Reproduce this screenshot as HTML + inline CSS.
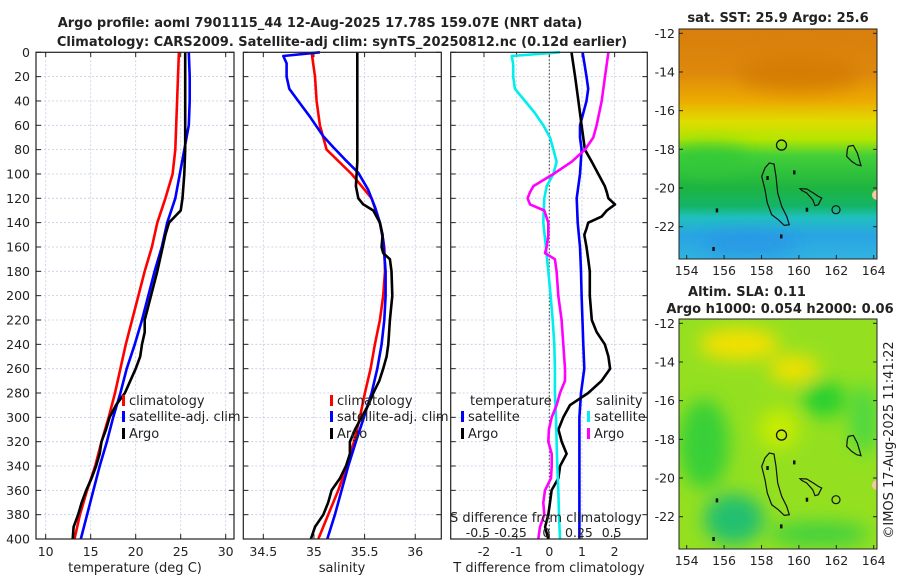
<!DOCTYPE html>
<html><head><meta charset="utf-8">
<style>
html,body{margin:0;padding:0;background:#fff;}
svg text{font-family:"DejaVu Sans","Liberation Sans",sans-serif;fill:#222;}
</style></head>
<body>
<svg id="chart" width="900" height="580" viewBox="0 0 900 580" xmlns="http://www.w3.org/2000/svg">
<defs>
<linearGradient id="sstGrad" x1="0" y1="0" x2="0" y2="1">
<stop offset="0" stop-color="#d87e0c"/><stop offset="0.19" stop-color="#de880c"/>
<stop offset="0.31" stop-color="#ecaa00"/><stop offset="0.40" stop-color="#e0dc00"/>
<stop offset="0.48" stop-color="#b4e600"/><stop offset="0.55" stop-color="#44d038"/>
<stop offset="0.69" stop-color="#1eb440"/><stop offset="0.77" stop-color="#14b468"/>
<stop offset="0.82" stop-color="#20c0c0"/><stop offset="0.90" stop-color="#2aa4e4"/>
<stop offset="1" stop-color="#30b4e0"/></linearGradient>
<filter id="blur" x="-50%" y="-50%" width="200%" height="200%"><feGaussianBlur stdDeviation="9"/></filter>
<clipPath id="clipTop"><rect x="679" y="29" width="198" height="230"/></clipPath>
<clipPath id="clipBot"><rect x="679" y="319" width="198" height="230"/></clipPath>
</defs>
<text x="320" y="27" font-size="13" font-weight="bold" text-anchor="middle">Argo profile: aoml 7901115_44 12-Aug-2025 17.78S 159.07E (NRT data)</text>
<text x="342" y="46" font-size="13" font-weight="bold" text-anchor="middle">Climatology: CARS2009. Satellite-adj clim: synTS_20250812.nc (0.12d earlier)</text>
<g id="g"></g>
</svg>
<script>
// ---------- data ----------
const climDepth=[0,20,40,60,80,100,120,140,160,180,200,220,240,260,280,300,320,340,360,380,400];
const climT=[24.8,24.7,24.6,24.5,24.4,24.1,23.3,22.4,21.8,21.0,20.3,19.6,18.9,18.3,17.7,17.0,16.2,15.5,14.6,13.8,13.2];
const satT=[25.9,26.0,26.0,25.9,25.4,24.9,24.4,23.5,22.9,22.1,21.4,20.7,19.9,19.0,18.3,17.5,16.8,16.0,15.3,14.6,13.9];
const argoDepth=[0,20,40,60,80,100,120,130,140,150,160,180,200,220,230,240,250,260,270,280,290,300,310,320,330,340,350,360,370,380,390,400];
const argoT=[25.5,25.5,25.5,25.5,25.5,25.4,25.2,25.0,23.7,23.3,23.0,22.4,21.7,21.0,21.0,20.7,20.5,20.0,19.4,18.8,17.8,17.1,16.7,16.2,16.0,15.6,15.1,14.5,14.0,13.6,13.1,13.0];
const climS=[34.977,35.010,35.026,35.059,35.125,35.372,35.569,35.651,35.694,35.701,35.684,35.651,35.602,35.559,35.503,35.454,35.395,35.322,35.240,35.141,35.043];
const satSDepth=[0,3,9,20,30,42,53,69,78,88,99,113,127,140,154,180,200,220,240,260,280,300,320,340,360,380,400];
const satS=[35.059,34.697,34.730,34.730,34.757,34.862,34.961,35.092,35.191,35.306,35.438,35.536,35.602,35.651,35.684,35.707,35.707,35.694,35.668,35.625,35.569,35.493,35.414,35.339,35.273,35.207,35.132];
const argoSDepth=[0,90,100,110,120,125,130,140,150,160,165,170,180,200,220,240,250,260,270,280,290,300,310,320,330,340,350,360,370,380,390,400];
const argoS=[35.428,35.428,35.421,35.414,35.438,35.487,35.586,35.651,35.678,35.668,35.684,35.750,35.766,35.773,35.750,35.734,35.717,35.684,35.645,35.586,35.536,35.470,35.405,35.355,35.355,35.316,35.257,35.174,35.141,35.092,35.010,34.970];
const satTdDepth=[0,20,30,40,50,60,70,80,100,120,140,160,180,200,240,260,280,300,400];
const satTdiff=[1.02,1.14,1.19,1.14,1.04,0.94,0.94,0.99,0.94,0.84,0.87,0.94,0.97,0.99,1.04,1.07,0.97,0.92,0.92];
const argoTdDepth=[0,20,40,60,80,90,100,110,115,120,125,130,135,140,145,150,160,170,180,200,220,230,240,250,260,270,280,290,300,310,320,330,340,350,360,370,380,390,400];
const argoTdiff=[0.68,0.79,0.89,0.99,1.09,1.30,1.50,1.70,1.76,1.81,2.01,1.76,1.60,1.19,1.14,1.07,1.14,1.19,1.24,1.24,1.30,1.45,1.70,1.81,1.86,1.60,1.19,0.63,0.43,0.28,0.38,0.53,0.33,0.28,0.07,0.02,-0.03,-0.13,-0.03];
const satSdDepth=[0,3,10,20,30,40,50,60,70,80,90,100,110,120,140,160,180,200,220,240,260,280,300,320,340,360,380,400];
const satSdiff=[0.082,-0.288,-0.276,-0.276,-0.263,-0.186,-0.110,-0.046,0.005,0.031,0.056,0.031,-0.020,-0.038,-0.046,-0.026,-0.008,0.010,0.026,0.038,0.043,0.043,0.051,0.056,0.061,0.069,0.074,0.082];
const argoSdDepth=[0,10,20,40,60,70,80,90,100,110,115,120,125,130,140,150,160,165,170,180,200,220,240,260,270,280,290,300,310,320,330,340,350,360,370,380,390,400];
const argoSdiff=[0.452,0.439,0.426,0.401,0.362,0.337,0.273,0.171,0.031,-0.122,-0.148,-0.166,-0.148,-0.038,-0.008,-0.008,-0.020,-0.033,0.043,0.056,0.069,0.094,0.107,0.120,0.120,0.082,0.056,0.018,-0.003,-0.008,0.018,0.018,0.013,-0.033,-0.046,-0.038,-0.071,-0.084];
const depthTicks=[0,20,40,60,80,100,120,140,160,180,200,220,240,260,280,300,320,340,360,380,400];
const tTicks=[10,15,20,25,30];
const sTicks=[34.5,35,35.5,36];
const dTicks=[-2,-1,0,1,2];
const sdTickLabels=["-0.5","-0.25","0","0.25","0.5"];
const sdTicks=[-0.5,-0.25,0,0.25,0.5];
const latTicks=[-12,-14,-16,-18,-20,-22];
const lonTicks=[154,156,158,160,162,164];
const argoLon=159.07, argoLat=-17.78;

// ---------- scales ----------
const yD=d=>52.3+d*1.2168;
const xT=t=>45.7+(t-10)*9;
const xS=s=>263.3+(s-34.5)*101.3;
const xDT=t=>549.3+t*32.67;
const xDS=s=>549.3+s*4*32.67;
const NS="http://www.w3.org/2000/svg";
const G=document.getElementById('g');
function el(tag,attrs,parent){const e=document.createElementNS(NS,tag);for(const k in attrs)e.setAttribute(k,attrs[k]);(parent||G).appendChild(e);return e;}
function txt(x,y,s,size,anchor,parent){const t=el('text',{x:x,y:y,'font-size':size,'text-anchor':anchor||'start'},parent);t.textContent=s;return t;}

const panels=[{x0:36,x1:234,name:'temperature'},{x0:243.3,x1:441.3,name:'salinity'},{x0:450.7,x1:647.3,name:'difference'}];
panels.forEach(p=>{
  const pg=el('g',{});
  
  
  depthTicks.forEach(d=>{
    el('line',{x1:p.x0,x2:p.x1,y1:yD(d),y2:yD(d),stroke:'#c4cce4','stroke-width':0.8,'stroke-dasharray':'2,2'},pg);
    el('line',{x1:p.x0,x2:p.x0+5,y1:yD(d),y2:yD(d),stroke:'#222','stroke-width':1},pg);
    el('line',{x1:p.x1-5,x2:p.x1,y1:yD(d),y2:yD(d),stroke:'#222','stroke-width':1},pg);
  });
  p.g=pg;
});
function xgrid(p,ticks,sc){ticks.forEach(v=>{const x=sc(v);
  el('line',{x1:x,x2:x,y1:52.3,y2:539,stroke:'#c4cce4','stroke-width':0.8,'stroke-dasharray':'2,2'},p.g);
  el('line',{x1:x,x2:x,y1:534,y2:539,stroke:'#222'},p.g);el('line',{x1:x,x2:x,y1:52.3,y2:57,stroke:'#222'},p.g);});}
xgrid(panels[0],tTicks,xT);xgrid(panels[1],sTicks,xS);xgrid(panels[2],dTicks,xDT);
tTicks.forEach(v=>{const t=txt(xT(v),556,String(v),12.5,'middle');});
sTicks.forEach(v=>{const t=txt(xS(v),556,String(v),12.5,'middle');});
dTicks.forEach(v=>{const t=txt(xDT(v),556,String(v),12.5,'middle');});
depthTicks.forEach(d=>{const t=txt(30,yD(d)+4.5,String(d),12.5,'end');});
el('line',{x1:xDT(0),x2:xDT(0),y1:52.3,y2:539,stroke:'#333','stroke-width':1,'stroke-dasharray':'1.5,2'},panels[2].g);

function line(xs,ds,sc,color,name,parent){
  const pts=xs.map((v,i)=>sc(v).toFixed(1)+','+yD(ds[i]).toFixed(1)).join(' ');
  const l=el('polyline',{points:pts,fill:'none',stroke:color,'stroke-width':2.6,'stroke-linejoin':'round'},parent);
  
  
}
line(climT,climDepth,xT,'#ff0000','climatology-temp-line',panels[0].g);
line(satT,climDepth,xT,'#0000ff','satellite-temp-line',panels[0].g);
line(argoT,argoDepth,xT,'#000000','argo-temp-line',panels[0].g);
line(climS,climDepth,xS,'#ff0000','climatology-sal-line',panels[1].g);
line(satS,satSDepth,xS,'#0000ff','satellite-sal-line',panels[1].g);
line(argoS,argoSDepth,xS,'#000000','argo-sal-line',panels[1].g);
line(satTdiff,satTdDepth,xDT,'#0000ff','satellite-tdiff-line',panels[2].g);
line(argoTdiff,argoTdDepth,xDT,'#000000','argo-tdiff-line',panels[2].g);
line(satSdiff,satSdDepth,xDS,'#00eeee','satellite-sdiff-line',panels[2].g);
line(argoSdiff,argoSdDepth,xDS,'#ff00ff','argo-sdiff-line',panels[2].g);
panels.forEach(p=>el('rect',{x:p.x0,y:52.3,width:p.x1-p.x0,height:486.7,fill:'none',stroke:'#222','stroke-width':1.2},p.g));

function leg(x,y,color,label,name){
  const lg=el('g',{});
  
  
  if(color) el('rect',{x:x,y:y-10,width:3,height:11,fill:color},lg);
  txt(x+7,y,label,13,'start',lg);
}
leg(122,405,'#ff0000','climatology','legend-climatology');
leg(122,421,'#0000ff','satellite-adj. clim','legend-satellite-adj');
leg(122,438,'#000000','Argo','legend-argo');
leg(330,405,'#ff0000','climatology','legend-sal-climatology');
leg(330,421,'#0000ff','satellite-adj. clim','legend-sal-satellite-adj');
leg(330,438,'#000000','Argo','legend-sal-argo');
leg(463,405,null,'temperature','legend-temperature-heading');
leg(461,421,'#0000ff','satellite','legend-t-satellite');
leg(461,438,'#000000','Argo','legend-t-argo');
leg(589,405,null,'salinity','legend-salinity-heading');
leg(587,421,'#00eeee','satellite','legend-s-satellite');
leg(587,438,'#ff00ff','Argo','legend-s-argo');
let t=txt(450,522,'S difference from climatology',13,'start');
sdTicks.forEach((v,i)=>{const tt=txt(xDS(v)+(v<0?-6:-3),537,sdTickLabels[i],12.5,'middle');});
t=txt(135,572,'temperature (deg C)',13,'middle');
t=txt(342,572,'salinity',13,'middle');
t=txt(549,572,'T difference from climatology',13,'middle');

// ---------- maps ----------
const MX0=679,MW=198,MH=230;
const lonX=lon=>686.7+(lon-154)*18.7;
const latY=(lat,top)=>top+4.3+(-12-lat)*19.34;
const islands=[
 [[82.7,147.4],[86,139],[90.3,134],[95,135],[97,147.4],[98.7,164],[102.7,177.4],[107.7,187.4],[110.3,195.7],[105.3,196.4],[99.3,190.7],[92.7,185.7],[88.3,174],[86,160.7]],
 [[169.3,117.4],[174.3,116.4],[178.3,124],[180.3,130.7],[182,136.7],[177.7,135.7],[172.7,132.4],[167.7,127.4],[168.3,120.7]],
 [[121,159.7],[127.7,160],[134.3,164],[139.3,167.4],[142.7,169],[139.3,175.7],[136,176.7],[133.7,170.7],[127.7,164],[122.7,161.4]]
];
function drawMap(top,kind){
  const mg=el('g',{});
  
  
  const cg=el('g',{'clip-path':kind==='sst'?'url(#clipTop)':'url(#clipBot)'},mg);
  if(kind==='sst'){
    el('rect',{x:MX0,y:top,width:MW,height:MH,fill:'url(#sstGrad)'},cg);
    const bl=el('g',{filter:'url(#blur)'},cg);
    el('ellipse',{cx:MX0+30,cy:top+130,rx:40,ry:14,fill:'#30c838',opacity:0.8},bl);
    el('ellipse',{cx:MX0+120,cy:top+45,rx:60,ry:18,fill:'#d07808',opacity:0.7},bl);
    el('ellipse',{cx:MX0+70,cy:top+215,rx:50,ry:14,fill:'#2890e8',opacity:0.6},bl);
  } else {
    el('rect',{x:MX0,y:top,width:MW,height:MH,fill:'#94e020'},cg);
    const bl=el('g',{filter:'url(#blur)'},cg);
    el('ellipse',{cx:MX0+60,cy:top+25,rx:40,ry:16,fill:'#f4e000'},bl);
    el('ellipse',{cx:MX0+115,cy:top+50,rx:25,ry:14,fill:'#f0e000'},bl);
    el('ellipse',{cx:MX0+145,cy:top+80,rx:22,ry:18,fill:'#28d030'},bl);
    el('ellipse',{cx:MX0+25,cy:top+125,rx:25,ry:45,fill:'#38d038'},bl);
    el('ellipse',{cx:MX0+55,cy:top+200,rx:30,ry:25,fill:'#20c070'},bl);
    el('ellipse',{cx:MX0+140,cy:top+215,rx:50,ry:12,fill:'#40d040'},bl);
    el('ellipse',{cx:MX0+185,cy:top+100,rx:15,ry:35,fill:'#50d840'},bl);
    el('ellipse',{cx:MX0+100,cy:top+110,rx:20,ry:20,fill:'#c8ec00'},bl);
  }
  islands.forEach(pts=>el('polygon',{points:pts.map(p=>(MX0+p[0])+','+(top+p[1])).join(' '),fill:'none',stroke:'#111','stroke-width':1.2},cg));
  el('circle',{cx:MX0+157,cy:top+180.7,r:4,fill:'none',stroke:'#111','stroke-width':1.2},cg);
  [[37.7,181.4],[34.3,220],[102,207.4],[115,143.4],[127.7,180.7],[88.3,149]].forEach(p=>el('rect',{x:MX0+p[0]-1,y:top+p[1]-2,width:2.5,height:4,fill:'#111'},cg));
  el('circle',{cx:MX0+198,cy:top+166,r:5,fill:'#f8c8a0'},cg);
  const ac=el('circle',{cx:lonX(argoLon),cy:latY(argoLat,top),r:5,fill:'none',stroke:'#111','stroke-width':1.3},cg);
  
  
  el('rect',{x:MX0,y:top,width:MW,height:MH,fill:'none',stroke:'#222','stroke-width':1},mg);
  latTicks.forEach(l=>{const y=latY(l,top);
    el('line',{x1:MX0,x2:MX0+4,y1:y,y2:y,stroke:'#222'},mg);el('line',{x1:MX0+MW-4,x2:MX0+MW,y1:y,y2:y,stroke:'#222'},mg);
    const tl=txt(675,y+4.5,String(l),12.5,'end',mg);});
  lonTicks.forEach(l=>{const x=lonX(l);
    el('line',{x1:x,x2:x,y1:top+MH-4,y2:top+MH,stroke:'#222'},mg);
    const tl=txt(x,top+MH+16,String(l),12.5,'middle',mg);});
}
drawMap(29,'sst');drawMap(319,'sla');
t=txt(778,22,'sat. SST: 25.9 Argo: 25.6',13,'middle');t.setAttribute('font-weight','bold');
t=txt(747,296,'Altim. SLA: 0.11',13,'middle');t.setAttribute('font-weight','bold');
t=txt(780,313,'Argo h1000: 0.054 h2000: 0.06',13,'middle');t.setAttribute('font-weight','bold');
t=txt(0,0,'©IMOS 17-Aug-2025 11:41:22',13,'middle');t.setAttribute('transform','translate(893,440) rotate(-90)');
</script>
</body></html>
